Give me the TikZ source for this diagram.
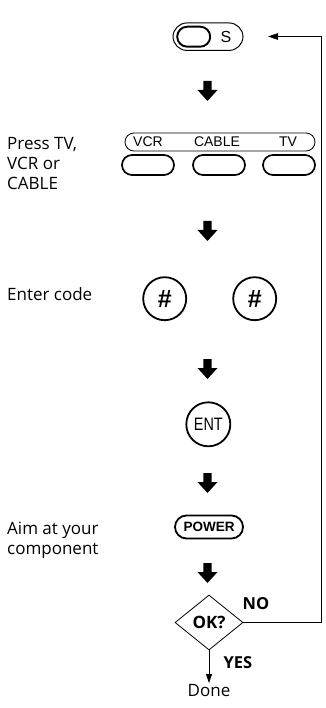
\documentclass[tikz,border=0pt]{standalone}
\usepackage{fontspec}
\usepackage{graphicx}
\setmainfont{Open Sans}
\newfontfamily\keyfont{Liberation Sans}
\usetikzlibrary{shapes.geometric,arrows.meta}

\begin{document}
\begin{tikzpicture}[x=1pt,y=-1pt,
		pill/.style={draw, inner sep=0pt},
		hashkey/.style={draw, circle, line width=1.8pt, minimum size=43pt, inner sep=0pt,
			font=\keyfont\bfseries\fontsize{25}{25}\selectfont},
		keytext/.style={font=\keyfont\fontsize{14}{14}\selectfont, inner sep=0pt},
		step text/.style={font=\fontsize{17}{20}\selectfont, align=left, inner sep=0pt},
		answer/.style={font=\bfseries\fontsize{16.5}{16.5}\selectfont, inner sep=0pt}]
		\useasboundingbox (0,0) rectangle (325,708);
		% S key
		\node[pill, line width=1pt, rounded corners=14pt, minimum width=70pt, minimum height=27.5pt] (sbtn) at (208,36.7) {};
		\node[pill, line width=1.9pt, rounded corners=10pt, minimum width=33pt, minimum height=20pt] (skey) at (193.7,36.7) {};
		\node[font=\keyfont\fontsize{16}{16}\selectfont, inner sep=0pt] (slabel) at (226,36.7) {S};
		% device keys
		\node[pill, line width=0.8pt, rounded corners=9pt, minimum width=190pt, minimum height=18pt] (bar) at (220,142) {};
		\node[keytext] (vcrlabel) at (148,142) {VCR};
		\node[keytext] (cablelabel) at (217,142) {CABLE};
		\node[keytext] (tvlabel) at (288,142) {TV};
		\foreach \x/\name in {148/vcr,219/cable,289/tv} {
			\node[pill, line width=1.7pt, rounded corners=10pt, minimum width=52pt, minimum height=20pt] (\name) at (\x,165) {};
		}
		% code keys
		\node[hashkey] (hashone) at (164.7,298.7) {\#};
		\node[hashkey] (hashtwo) at (254.7,298.7) {\#};
		\node[draw, circle, line width=1.8pt, minimum size=44pt, inner sep=0pt,
			font=\keyfont\fontsize{18}{18}\selectfont] (ent) at (208.3,424.3) {\scalebox{0.8}[1]{ENT}};
		\node[pill, line width=1.8pt, rounded corners=11.5pt, minimum width=68pt, minimum height=23pt,
			font=\keyfont\bfseries\fontsize{13.5}{13.5}\selectfont] (power) at (209,527) {POWER};
		% steps
		\node[step text, anchor=north west] (press) at (7,137) {Press TV,\\VCR or\\CABLE};
		\node[step text, anchor=base west] (enter) at (7,300) {Enter code};
		\node[step text, anchor=north west] (aim) at (7,521.7) {Aim at your\\component};
		% big arrows
		\foreach \y in {81,221,359,473,563} {
			\fill (203.4,\y) -- (211.6,\y) -- (211.6,\y+9) -- (217.5,\y+9) -- (207.5,\y+20) -- (197.5,\y+9) -- (203.4,\y+9) -- cycle;
		}
		% check
		\node[draw, diamond, aspect=1.24, minimum width=68pt, minimum height=55pt, inner sep=0pt,
			line width=0.8pt, font=\bfseries\fontsize{17}{17}\selectfont] (ok) at (209,622.5) {OK?};
		\node[answer] (no) at (256,604) {NO};
		\node[answer] (yes) at (238,663) {YES};
		\node[step text, anchor=north, inner sep=1.5pt] (done) at (209,683) {Done};
		\draw[line width=0.8pt, -{Triangle[length=9pt,width=6pt]}] (ok.south) -- (done.north);
		\coordinate (edge) at (321.5,36.5);
		\coordinate (ret) at (268,36.5);
		\draw[line width=0.8pt, -{Triangle[length=10pt,width=6.5pt]}] (ok.east) -| (edge) -- (ret);
	\end{tikzpicture}
\end{document}
